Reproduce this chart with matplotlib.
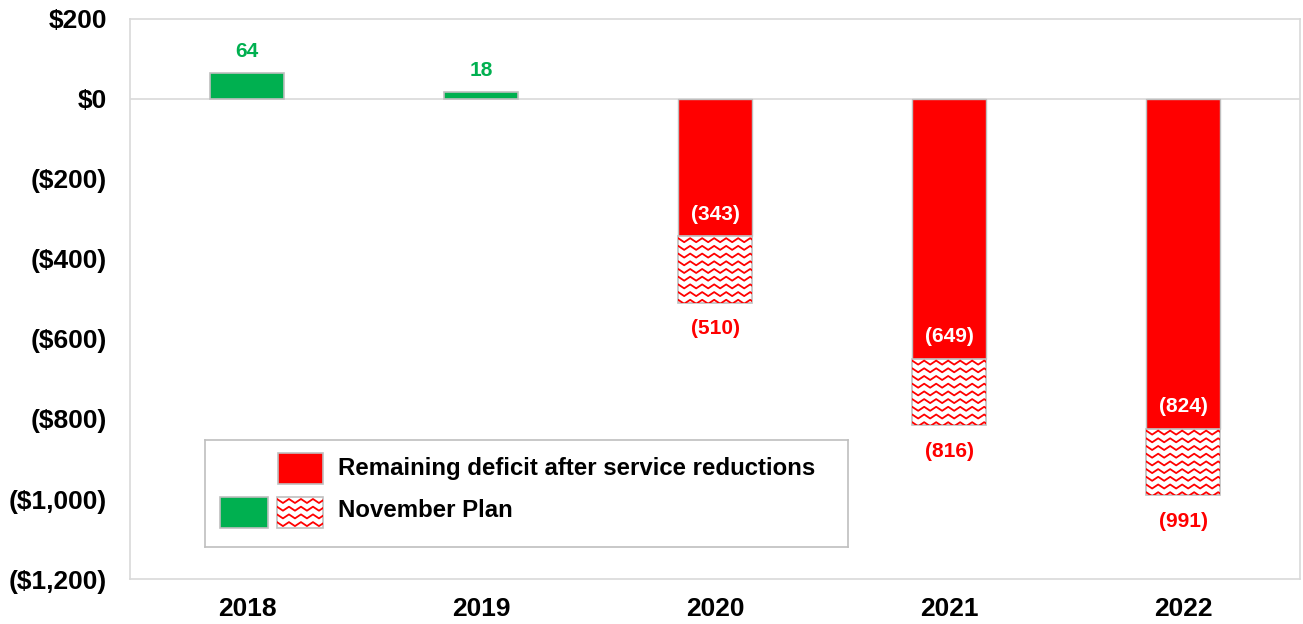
import matplotlib
matplotlib.use("Agg")
import matplotlib.pyplot as plt
from matplotlib.patches import Rectangle
from matplotlib.lines import Line2D
from matplotlib.transforms import IdentityTransform
import numpy as np

years = ["2018", "2019", "2020", "2021", "2022"]
november_plan = [64, 18, -510, -816, -991]
remaining_deficit = [None, None, -343, -649, -824]
y_ticks = [200, 0, -200, -400, -600, -800, -1000, -1200]

GREEN = "#00B050"
RED = "#FF0000"
EDGE = "#BFBFBF"
FRAME = "#D9D9D9"
BAR_W = 0.315

plt.rcParams["font.family"] = ["Liberation Sans", "DejaVu Sans"]
plt.rcParams["font.weight"] = "bold"


def money(v):
    s = "${:,.0f}".format(abs(v))
    return "({})".format(s) if v < 0 else s


def paren(v):
    return "({:,.0f})".format(abs(v)) if v < 0 else "{:,.0f}".format(v)


def zigzag(ax, patch, period=12.0, gap=7.7, amp=4.0, lw=1.3):
    # wavy red fill, drawn in pixel space and clipped to the patch
    bb = patch.get_window_extent()
    xs = np.arange(bb.x0 - period, bb.x1 + period, period / 2)
    wave = np.where(np.arange(len(xs)) % 2 == 0, 0.0, amp)
    y = bb.y1 - 2
    while y > bb.y0 - amp:
        ln = Line2D(xs, y - wave, color=RED, lw=lw,
                    transform=IdentityTransform())
        ax.add_artist(ln)
        ln.set_clip_path(patch)
        y -= gap


fig = plt.figure(figsize=(13.03, 6.24), dpi=100)
ax = fig.add_axes([0.0998, 0.0721, 0.8979, 0.8975])
x = np.arange(len(years))
ax.set_xlim(-0.5, len(years) - 0.5)
ax.set_ylim(-1200, 200)

ax.axhline(0, color=FRAME, lw=1.2, zorder=1)

hatched = []
for i, (plan, rem) in enumerate(zip(november_plan, remaining_deficit)):
    if plan >= 0:
        ax.bar(x[i], plan, BAR_W, color=GREEN, edgecolor=EDGE, lw=1.2, zorder=2)
        ax.text(x[i], plan + 30, paren(plan), color=GREEN, fontsize=15,
                ha="center", va="bottom")
        continue
    ax.bar(x[i], rem, BAR_W, color=RED, edgecolor=EDGE, lw=1.0, zorder=2)
    b = ax.bar(x[i], plan - rem, BAR_W, bottom=rem, color="white",
               edgecolor=EDGE, lw=1.2, zorder=2)
    hatched.append(b.patches[0])
    ax.text(x[i], rem + 55, paren(rem), color="white", fontsize=15,
            ha="center", va="center")
    ax.text(x[i], plan - 65, paren(plan), color=RED, fontsize=15,
            ha="center", va="center")

for p in hatched:
    zigzag(ax, p)

ax.set_xticks(x)
ax.set_xticklabels(years, fontsize=19)
ax.set_yticks(y_ticks)
ax.set_yticklabels([money(v) for v in y_ticks], fontsize=19)
ax.tick_params(length=0)
ax.tick_params(axis="y", pad=16.5)
ax.tick_params(axis="x", pad=13)
for s in ax.spines.values():
    s.set_color(FRAME)
    s.set_linewidth(1.2)

# legend box, laid out in pixel units
lax = fig.add_axes([0.1573, 0.1234, 0.4935, 0.1715])
lax.set_xlim(0, 643)
lax.set_ylim(107, 0)
lax.set_xticks([])
lax.set_yticks([])
for s in lax.spines.values():
    s.set_color(EDGE)
    s.set_linewidth(1.2)
lax.add_patch(Rectangle((73, 13), 45, 31, facecolor=RED, edgecolor=EDGE, lw=1.2))
lax.add_patch(Rectangle((15, 57), 48, 31, facecolor=GREEN, edgecolor=EDGE, lw=1.2))
lp = Rectangle((72, 57), 46, 31, facecolor="white", edgecolor=EDGE, lw=1.2)
lax.add_patch(lp)
zigzag(lax, lp)
lax.text(133, 29, "Remaining deficit after service reductions", fontsize=17.3,
         va="center", ha="left")
lax.text(133, 71, "November Plan", fontsize=17.3, va="center", ha="left")

fig.savefig("out.png", dpi=100)
